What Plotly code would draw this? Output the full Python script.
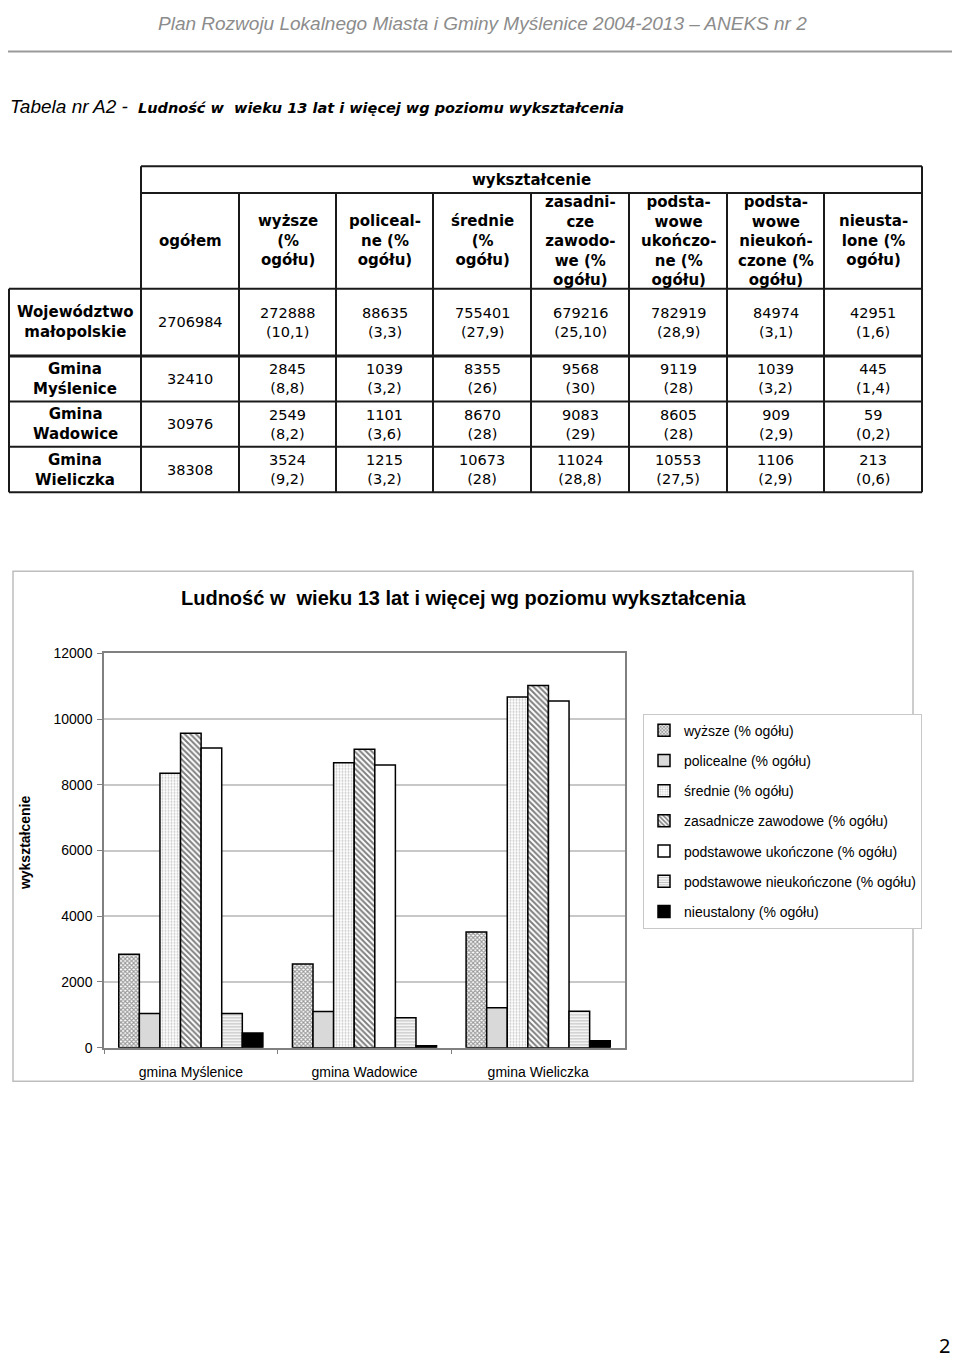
import plotly.graph_objects as go

# page is 960x1371; the html body keeps its 8px margin, so the figure is 16px smaller
PAGE_OFF = 8
W, H = 944, 1355

# ---- data (from the table) ----
regions = ["Województwo<br>małopolskie", "Gmina<br>Myślenice", "Gmina<br>Wadowice", "Gmina<br>Wieliczka"]
ogolem = [2706984, 32410, 30976, 38308]
wyzsze = [272888, 2845, 2549, 3524]
wyzsze_pct = ["10,1", "8,8", "8,2", "9,2"]
policealne = [88635, 1039, 1101, 1215]
policealne_pct = ["3,3", "3,2", "3,6", "3,2"]
srednie = [755401, 8355, 8670, 10673]
srednie_pct = ["27,9", "26", "28", "28"]
zasadnicze = [679216, 9568, 9083, 11024]
zasadnicze_pct = ["25,10", "30", "29", "28,8"]
podst_uk = [782919, 9119, 8605, 10553]
podst_uk_pct = ["28,9", "28", "28", "27,5"]
podst_nieuk = [84974, 1039, 909, 1106]
podst_nieuk_pct = ["3,1", "3,2", "2,9", "2,9"]
nieustalone = [42951, 445, 59, 213]
nieustalone_pct = ["1,6", "1,4", "0,2", "0,6"]

col_headers = [
    "ogółem",
    "wyższe<br>(%<br>ogółu)",
    "policeal-<br>ne (%<br>ogółu)",
    "średnie<br>(%<br>ogółu)",
    "zasadni-<br>cze<br>zawodo-<br>we (%<br>ogółu)",
    "podsta-<br>wowe<br>ukończo-<br>ne (%<br>ogółu)",
    "podsta-<br>wowe<br>nieukoń-<br>czone (%<br>ogółu)",
    "nieusta-<br>lone (%<br>ogółu)",
]

gminy = ["gmina Myślenice", "gmina Wadowice", "gmina Wieliczka"]
series_names = [
    "wyższe (% ogółu)",
    "policealne (% ogółu)",
    "średnie (% ogółu)",
    "zasadnicze zawodowe (% ogółu)",
    "podstawowe ukończone (% ogółu)",
    "podstawowe nieukończone (% ogółu)",
    "nieustalony (% ogółu)",
]
series_values = [wyzsze, policealne, srednie, zasadnicze, podst_uk, podst_nieuk, nieustalone]
series_pct = [wyzsze_pct, policealne_pct, srednie_pct, zasadnicze_pct,
              podst_uk_pct, podst_nieuk_pct, nieustalone_pct]


def px(x):
    return (x - PAGE_OFF) / W


def py(y):
    return 1 - (y - PAGE_OFF) / H


# bar fills (black and white print style)
fills = [
    dict(color="white", pattern=dict(shape="x", fgcolor="#333333", bgcolor="white", size=3, solidity=0.6)),
    dict(color="#d9d9d9"),
    dict(color="white", pattern=dict(shape=".", fgcolor="#8a8a8a", bgcolor="white", size=3, solidity=0.35)),
    dict(color="white", pattern=dict(shape="\\", fgcolor="black", bgcolor="white", size=4, solidity=0.5)),
    dict(color="white"),
    dict(color="white", pattern=dict(shape="-", fgcolor="#808080", bgcolor="white", size=3, solidity=0.45)),
    dict(color="black"),
]

fig = go.Figure()
for i, name in enumerate(series_names):
    marker = dict(fills[i])
    marker["line"] = dict(color="black", width=1.5)
    fig.add_trace(go.Bar(
        x=gminy,
        y=series_values[i][1:],
        name=name,
        legendgroup=name,
        marker=marker,
    ))

shapes = []
annotations = []


def note(x, y, text, font, xanchor="center", yanchor="middle", **kw):
    annotations.append(dict(x=px(x), y=py(y), xref="paper", yref="paper", showarrow=False,
                            xanchor=xanchor, yanchor=yanchor, text=text, font=font, **kw))


# ---- page header ----
note(482, 16, "<i>Plan Rozwoju Lokalnego Miasta i Gminy Myślenice 2004-2013 – ANEKS nr 2</i>",
     dict(family="Liberation Sans", size=19, color="#8c8c8c"))
shapes.append(dict(type="line", xref="paper", yref="paper",
                   x0=px(8), x1=px(952), y0=py(44), y1=py(44),
                   line=dict(color="#9a9a9a", width=2)))

note(8, 100, "<i>Tabela nr A2 -</i>",
     dict(family="Liberation Sans", size=19, color="black"), xanchor="left")
note(136, 101, "<b><i>Ludność w\u00a0 wieku 13 lat i więcej wg poziomu wykształcenia</i></b>",
     dict(family="DejaVu Sans", size=14.5, color="black"), xanchor="left")

# ---- table ----
col_x = [141, 239, 336, 433, 531, 629, 727, 824, 922]
label_left = 9
row_y = [160, 187, 284, 352, 398, 444, 490]
bfont = dict(family="DejaVu Sans", size=15, color="black")
tfont = dict(family="DejaVu Sans", size=14.5, color="black")


def hline(y, x0, x1, width=2):
    shapes.append(dict(type="line", xref="paper", yref="paper",
                       x0=px(x0), x1=px(x1), y0=py(y), y1=py(y),
                       line=dict(color="#1a1a1a", width=width)))


def vline(x, y0, y1):
    shapes.append(dict(type="line", xref="paper", yref="paper",
                       x0=px(x), x1=px(x), y0=py(y0), y1=py(y1),
                       line=dict(color="#1a1a1a", width=2)))


hline(row_y[0], col_x[0], col_x[-1])
hline(row_y[1], col_x[0], col_x[-1])
for y in row_y[2:]:
    hline(y, label_left, col_x[-1], width=3 if y == row_y[3] else 2)
vline(label_left, row_y[2], row_y[-1])
vline(col_x[0], row_y[0], row_y[-1])
vline(col_x[-1], row_y[0], row_y[-1])
for x in col_x[1:-1]:
    vline(x, row_y[1], row_y[-1])

note((col_x[0] + col_x[-1]) / 2, (row_y[0] + row_y[1]) / 2, "<b>wykształcenie</b>", bfont)

for j, head in enumerate(col_headers):
    note((col_x[j] + col_x[j + 1]) / 2, (row_y[1] + row_y[2]) / 2, "<b>" + head + "</b>", bfont)

for r, reg in enumerate(regions):
    yc = (row_y[2 + r] + row_y[3 + r]) / 2
    note((label_left + col_x[0]) / 2, yc, "<b>" + reg + "</b>", bfont)
    note((col_x[0] + col_x[1]) / 2, yc, str(ogolem[r]), tfont)
    for k in range(len(series_values)):
        note((col_x[k + 1] + col_x[k + 2]) / 2, yc,
             f"{series_values[k][r]}<br>({series_pct[k][r]})", tfont)

# ---- chart frame, title, axis title ----
shapes.append(dict(type="rect", xref="paper", yref="paper",
                   x0=px(13), x1=px(913), y0=py(570), y1=py(1086),
                   line=dict(color="#bdbdbd", width=1.5), layer="below"))
note(463, 597, "<b>Ludność w\u00a0 wieku 13 lat i więcej wg poziomu wykształcenia</b>",
     dict(family="Liberation Sans, Arial", size=20, color="black"))
note(25, 845, "<b>wykształcenie</b>",
     dict(family="Liberation Sans, Arial", size=14, color="black"), textangle=-90)

# page number
note(944, 1353, "2", dict(family="Noto Sans", size=20, color="black"))

fig.update_layout(
    width=W, height=H,
    margin=dict(l=0, r=0, t=0, b=0),
    paper_bgcolor="white", plot_bgcolor="white",
    barmode="group", bargap=0.17, bargroupgap=0,
    font=dict(family="Liberation Sans, Arial", size=14, color="black"),
    xaxis=dict(
        domain=[px(104), px(625)],
        showline=True, linecolor="#808080", linewidth=1.5, mirror=True,
        ticks="outside", tickson="boundaries", ticklen=5, tickcolor="#808080",
        ticklabelstandoff=11,
        tickfont=dict(family="Liberation Sans, Arial", size=14, color="black"),
    ),
    yaxis=dict(
        domain=[py(1052), py(653)],
        range=[0, 12000], dtick=2000, tickformat="d",
        showgrid=True, gridcolor="#c8c8c8", gridwidth=1.5,
        showline=True, linecolor="#808080", linewidth=1.5, mirror=True,
        ticks="outside", ticklen=5, tickcolor="#808080",
        ticklabelstandoff=2,
        tickfont=dict(family="Liberation Sans, Arial", size=14, color="black"),
        zeroline=False,
    ),
    legend=dict(
        x=px(643), y=py(714), xanchor="left", yanchor="top",
        bordercolor="#c8c8c8", borderwidth=1, bgcolor="white",
        font=dict(family="Liberation Sans, Arial", size=14, color="black"),
        tracegroupgap=9, itemwidth=30,
    ),
    shapes=shapes,
    annotations=annotations,
)

fig.write_html("out.html", config={"displayModeBar": False})
